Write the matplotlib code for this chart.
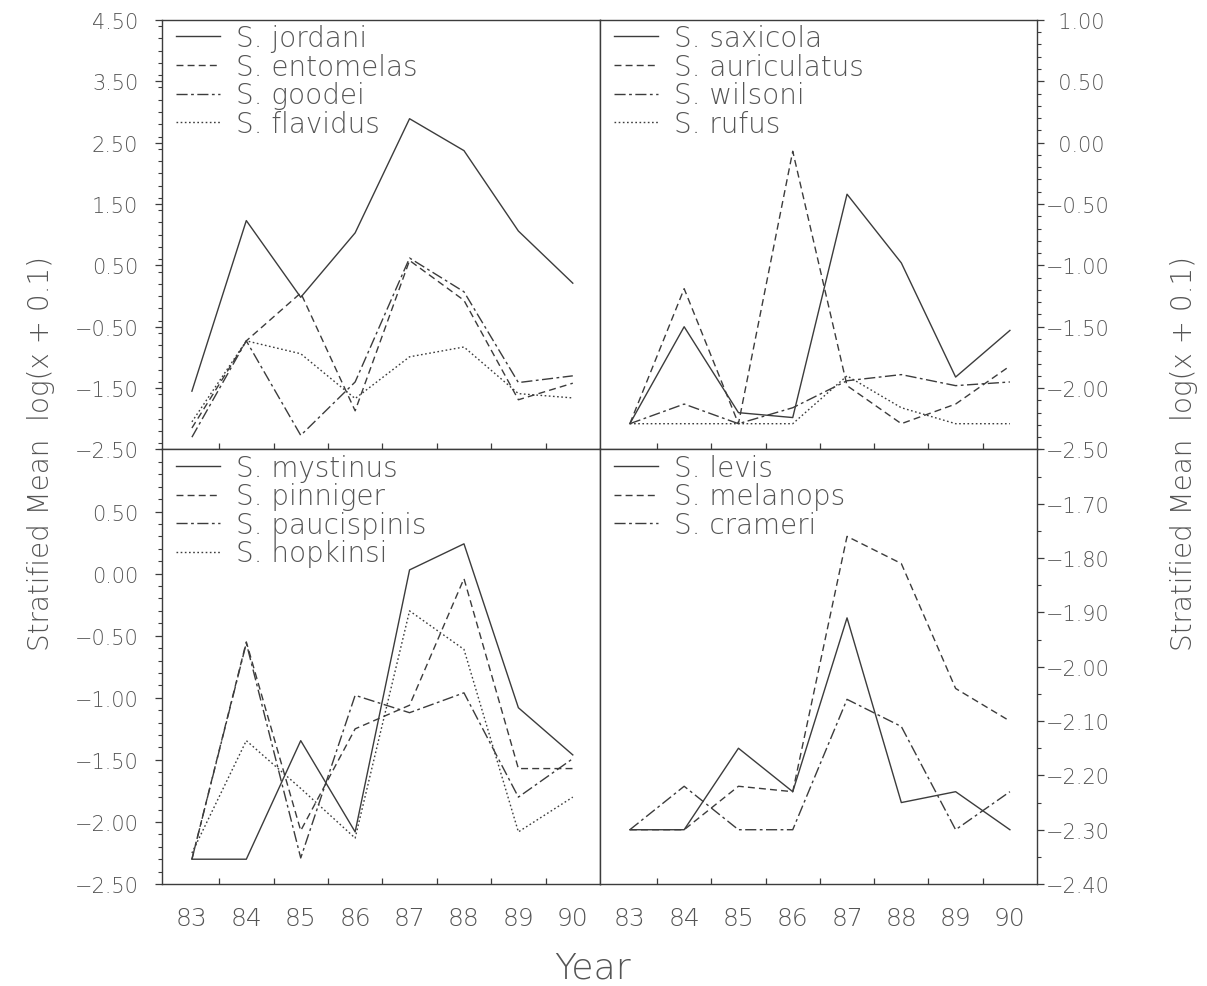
import numpy as np
import matplotlib
matplotlib.use('Agg')
import matplotlib.pyplot as plt
from matplotlib.ticker import FixedLocator, MultipleLocator, FuncFormatter, NullFormatter

# survey years shared by every panel
years = [83, 84, 85, 86, 87, 88, 89, 90]

# top left panel
jordani = [-1.55, 1.23, -0.02, 1.03, 2.89, 2.37, 1.06, 0.21]
entomelas = [-2.15, -0.73, 0.05, -1.87, 0.58, -0.07, -1.69, -1.42]
goodei = [-2.30, -0.73, -2.27, -1.40, 0.62, 0.07, -1.41, -1.30]
flavidus = [-2.05, -0.73, -0.94, -1.67, -0.99, -0.83, -1.59, -1.66]

# top right panel
saxicola = [-2.29, -1.50, -2.20, -2.24, -0.42, -0.98, -1.91, -1.53]
auriculatus = [-2.29, -1.19, -2.29, -0.07, -1.98, -2.29, -2.13, -1.82]
wilsoni = [-2.29, -2.13, -2.29, -2.16, -1.94, -1.89, -1.98, -1.95]
rufus = [-2.29, -2.29, -2.29, -2.29, -1.90, -2.16, -2.29, -2.29]

# bottom left panel
mystinus = [-2.30, -2.30, -1.345, -2.08, 0.03, 0.24, -1.08, -1.46]
pinniger = [-2.30, -0.55, -2.07, -1.25, -1.06, -0.04, -1.57, -1.57]
paucispinis = [-2.30, -0.56, -2.29, -0.98, -1.12, -0.96, -1.80, -1.49]
hopkinsi = [-2.25, -1.345, -1.73, -2.13, -0.30, -0.61, -2.08, -1.80]

# bottom right panel
levis = [-2.30, -2.30, -2.15, -2.23, -1.91, -2.25, -2.23, -2.30]
melanops = [-2.30, -2.30, -2.22, -2.23, -1.76, -1.81, -2.04, -2.10]
crameri = [-2.30, -2.22, -2.30, -2.30, -2.06, -2.11, -2.30, -2.23]

LINE = '#3c3c3c'
TEXT = '#555555'
STYLES = ['-', (0, (5, 3)), (0, (8, 2.5, 2, 2.5)), (0, (1.2, 1.8))]

plt.rcParams['font.family'] = ['DejaVu Sans']
plt.rcParams['font.weight'] = 'light'
plt.rcParams['text.color'] = TEXT
plt.rcParams['xtick.color'] = LINE
plt.rcParams['ytick.color'] = LINE
plt.rcParams['xtick.labelcolor'] = TEXT
plt.rcParams['ytick.labelcolor'] = TEXT


def fmt_left(v, pos):
    return f"{v:.2f}".replace('-', '\u2212')


def fmt_right(v, pos):
    s = f"{v:.2f}"
    if s.startswith('-'):
        return '\u2212' + s[1:]
    return '\u2007' + s


def draw_panel(ax, series, names, ylim, majors, minor_step, right, bottom):
    for vals, name, ls in zip(series, names, STYLES):
        ax.plot(years, vals, color=LINE, linewidth=1.0, linestyle=ls, label=name)

    ax.set_xlim(82.45, 90.5)
    ax.set_ylim(*ylim)
    for sp in ax.spines.values():
        sp.set_color(LINE)
        sp.set_linewidth(1.0)

    # year labels on integer positions, tick marks between years
    ax.xaxis.set_major_locator(FixedLocator(years))
    ax.xaxis.set_minor_locator(FixedLocator([y + 0.5 for y in years[:-1]]))
    ax.tick_params(axis='x', which='major', length=0, pad=16, labelsize=18,
                   labelbottom=bottom)
    ax.tick_params(axis='x', which='minor', direction='in', length=4.5, width=0.9)

    ax.yaxis.set_major_locator(FixedLocator(majors))
    ax.yaxis.set_minor_locator(MultipleLocator(minor_step))
    ax.yaxis.set_minor_formatter(NullFormatter())
    if right:
        ax.yaxis.tick_right()
        ax.yaxis.set_major_formatter(FuncFormatter(fmt_right))
        ax.tick_params(axis='y', which='both', direction='out', pad=1, labelsize=15)
    else:
        ax.yaxis.set_major_formatter(FuncFormatter(fmt_left))
        ax.tick_params(axis='y', which='both', direction='out', pad=12, labelsize=15)
    ax.tick_params(axis='y', which='major', length=5, width=0.9)
    ax.tick_params(axis='y', which='minor', length=3, width=0.8)

    ax.legend(loc='upper left', bbox_to_anchor=(0.032, 0.99), frameon=False,
              fontsize=20, handlelength=1.6, handletextpad=0.55,
              labelspacing=0.02, borderpad=0, borderaxespad=0)


def render_plot():
    fig = plt.figure(figsize=(12.07, 9.87), dpi=100)

    ax_tl = fig.add_axes([0.1342, 0.5436, 0.3629, 0.4352])
    ax_tr = fig.add_axes([0.4971, 0.5436, 0.3621, 0.4352])
    ax_bl = fig.add_axes([0.1342, 0.1033, 0.3629, 0.4403])
    ax_br = fig.add_axes([0.4971, 0.1033, 0.3621, 0.4403])

    draw_panel(ax_tl, [jordani, entomelas, goodei, flavidus],
               ['S. jordani', 'S. entomelas', 'S. goodei', 'S. flavidus'],
               (-2.5, 4.5), np.arange(4.5, -2.51, -1.0), 0.2, False, False)
    draw_panel(ax_tr, [saxicola, auriculatus, wilsoni, rufus],
               ['S. saxicola', 'S. auriculatus', 'S. wilsoni', 'S. rufus'],
               (-2.5, 1.0), np.arange(1.0, -2.51, -0.5), 0.1, True, False)
    draw_panel(ax_bl, [mystinus, pinniger, paucispinis, hopkinsi],
               ['S. mystinus', 'S. pinniger', 'S. paucispinis', 'S. hopkinsi'],
               (-2.5, 1.0), np.arange(0.5, -2.51, -0.5), 0.1, False, True)
    draw_panel(ax_br, [levis, melanops, crameri],
               ['S. levis', 'S. melanops', 'S. crameri'],
               (-2.4, -1.6), np.arange(-1.7, -2.401, -0.1), 0.05, True, True)

    ylab = 'Stratified Mean  log(x + 0.1)'
    fig.text(0.034, 0.541, ylab, rotation=90, ha='center', va='center', fontsize=20)
    fig.text(0.981, 0.541, ylab, rotation=90, ha='center', va='center', fontsize=20)
    fig.text(0.491, 0.019, 'Year', ha='center', va='center', fontsize=26)

    fig.savefig('out.png', dpi=100, facecolor='white')


def main():
    render_plot()


if __name__ == "__main__":
    main()
